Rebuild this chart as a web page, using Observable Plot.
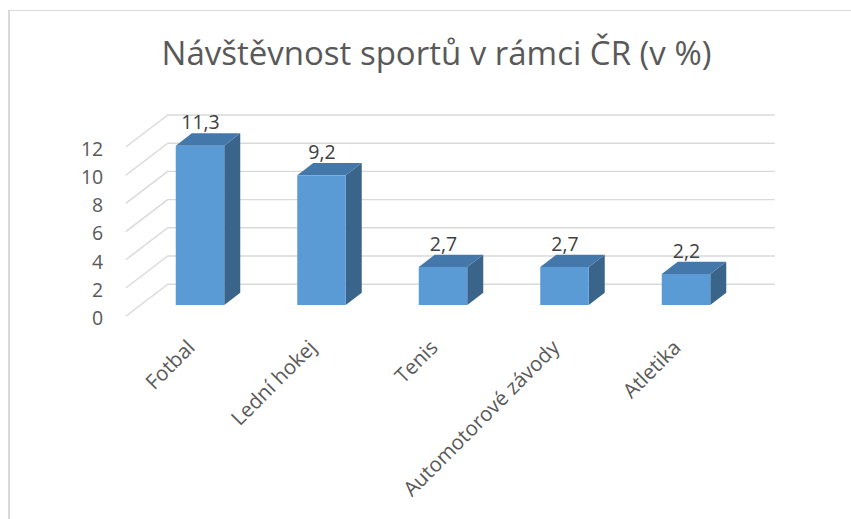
<!DOCTYPE html>
<html>
<head>
<meta charset="utf-8">
<script src="https://cdn.jsdelivr.net/npm/d3@7"></script>
<script src="https://cdn.jsdelivr.net/npm/@observablehq/plot@0.6"></script>
<style>
  html, body { margin: 0; padding: 0; background: #fff; }
  #wrap { position: relative; width: 851px; height: 519px; overflow: hidden; font-family: "Open Sans", sans-serif; }
  #frame { position: absolute; left: 8px; top: 10px; width: 900px; height: 600px; border-top: 1px solid #d9d9d9; border-left: 2px solid #d9d9d9; box-sizing: border-box; }
  #title { position: absolute; left: 0; top: 31px; width: 873px; text-align: center; font-size: 33px; line-height: 1.362; color: #595959; white-space: nowrap; }
  #chart { position: absolute; left: 0; top: 95px; }
</style>
</head>
<body>
<div id="wrap">
  <div id="frame"></div>
  <div id="title">Návštěvnost sportů v rámci ČR (v %)</div>
  <div id="chart"></div>
</div>
<script>
// ---- data ----
const categories = ["Fotbal", "Lední hokej", "Tenis", "Automotorové závody", "Atletika"];
const values = [11.3, 9.2, 2.7, 2.7, 2.2];
const yTicks = [0, 2, 4, 6, 8, 10, 12];

// ---- layout ----
const W = 851, H = 424;
const mLeft = 139.25, mRight = 104.25, mTop = 40.8, mBottom = 214;
const xDomain = [-0.5, categories.length - 0.5];
const yDomain = [0, 12];
const PX = (W - mLeft - mRight) / (xDomain[1] - xDomain[0]); // px per category
const PY = (H - mTop - mBottom) / (yDomain[1] - yDomain[0]);  // px per unit
const FS = 19.5, FSC = 20.5;

// 3D offsets (px converted to data units)
const half = 24.25 / PX;             // half bar width
const bD = 16 / PX, bH = 12.3 / PY;   // bar depth
const bXb = 28 / PX, bYb = 21.3 / PY; // back wall offset from bar plane
const fX = 14 / PX, fY = 10.7 / PY;   // front edge offset from bar plane

const fmt = v => String(v).replace(".", ",");
const bars = categories.map((c, i) => ({i, c, v: values[i]}));
const sidePts = bars.flatMap(d => [
  {i: d.i, x: d.i + half, y1: 0, y2: d.v},
  {i: d.i, x: d.i + half + bD, y1: bH, y2: d.v + bH}
]);
const topPts = bars.flatMap(d => [
  {i: d.i, y: d.v, x1: d.i - half, x2: d.i + half},
  {i: d.i, y: d.v + bH, x1: d.i - half + bD, x2: d.i + half + bD}
]);

const grid = "#d9d9d9";
const chart = Plot.plot({
  width: W, height: H,
  marginLeft: mLeft, marginRight: mRight, marginTop: mTop, marginBottom: mBottom,
  x: {type: "linear", domain: xDomain, axis: null},
  y: {type: "linear", domain: yDomain, axis: null},
  style: {fontFamily: "Open Sans", fontSize: FS + "px", background: "transparent", overflow: "visible"},
  marks: [
    Plot.ruleY(yTicks, {y: d => d + bYb, x1: xDomain[0] + bXb, x2: xDomain[1] + bXb, stroke: grid, strokeWidth: 1.4}),
    Plot.link(yTicks, {x1: xDomain[0] - fX, y1: d => d - fY, x2: xDomain[0] + bXb, y2: d => d + bYb, stroke: grid, strokeWidth: 1.4}),
    Plot.text(yTicks, {x: xDomain[0] - fX, y: d => d - fY, text: d => String(d), textAnchor: "end", dx: -22.5, dy: 2.5, fill: "#595959", fontSize: FS}),
    Plot.areaY(sidePts, {x: "x", y1: "y1", y2: "y2", z: "i", fill: "#3a6489"}),
    Plot.areaX(topPts, {y: "y", x1: "x1", x2: "x2", z: "i", fill: "#4477aa"}),
    Plot.rect(bars, {x1: d => d.i - half, x2: d => d.i + half, y1: 0, y2: "v", fill: "#5b9bd5"}),
    Plot.text(bars, {x: "i", y: "v", text: d => fmt(d.v), dy: -23, fill: "#404040", fontSize: FS}),
    Plot.text(bars, {x: d => d.i - fX, y: -fY, text: "c", rotate: -45, textAnchor: "end", dx: 5, dy: 28, fill: "#595959", fontSize: FSC})
  ]
});
document.getElementById("chart").appendChild(chart);
</script>
</body>
</html>
